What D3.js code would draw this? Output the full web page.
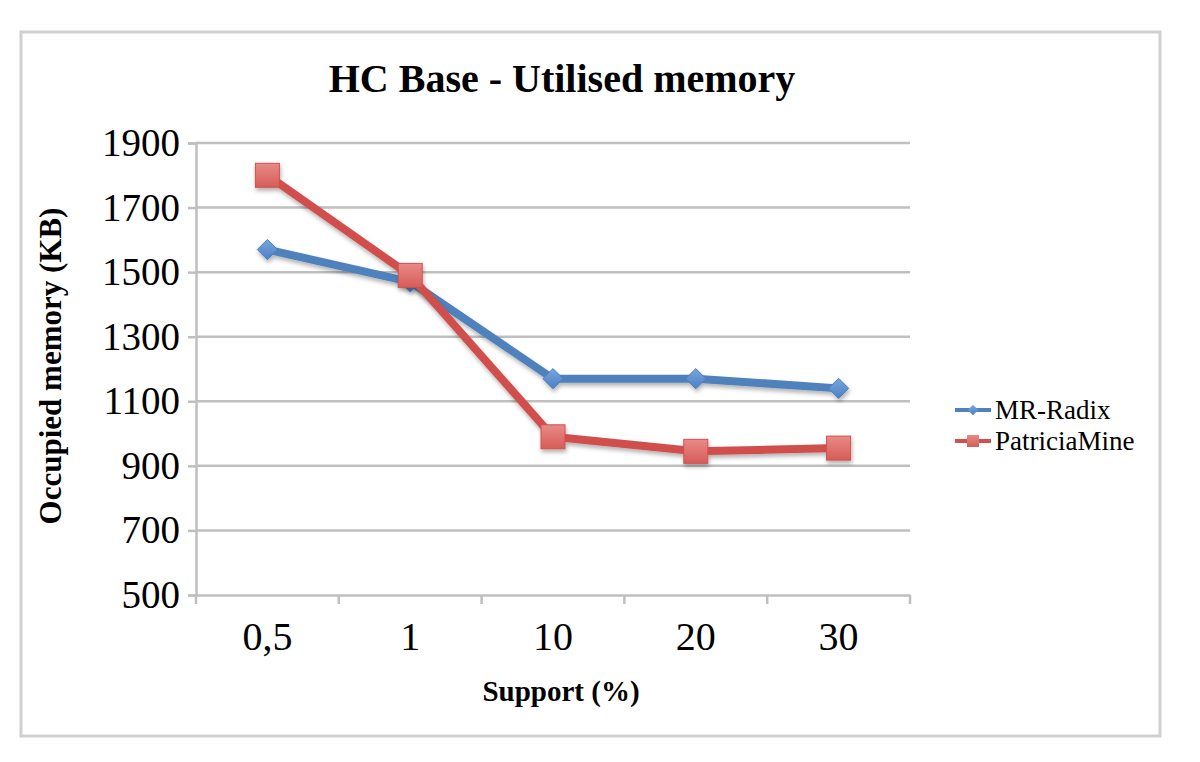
<!DOCTYPE html>
<html><head><meta charset="utf-8">
<script src="https://cdn.jsdelivr.net/npm/d3@7"></script>
<style>body{margin:0;background:#fff}svg{display:block}</style>
</head><body>
<svg id="c" width="1200" height="762"></svg>
<script>
const categories = ["0,5","1","10","20","30"];
const mrRadix = [1570,1470,1170,1170,1140];
const patriciaMine = [1800,1490,990,945,955];
const yTicks = [500,700,900,1100,1300,1500,1700,1900];
const seriesNames = ["MR-Radix","PatriciaMine"];

const svg = d3.select("#c");
const font = "'Liberation Serif','Times New Roman',serif";
const m = {left:196, right:910, top:143, bottom:595};

const defs = svg.append("defs");
const f = defs.append("filter").attr("id","sh").attr("x","-20%").attr("y","-20%").attr("width","140%").attr("height","160%");
f.append("feDropShadow").attr("dx",1).attr("dy",3).attr("stdDeviation",2).attr("flood-color","#000").attr("flood-opacity",0.3);
const gR = defs.append("linearGradient").attr("id","gR").attr("x1",0).attr("y1",0).attr("x2",0).attr("y2",1);
gR.append("stop").attr("offset","0").attr("stop-color","#e88a87");
gR.append("stop").attr("offset","1").attr("stop-color","#d65c58");
const gB = defs.append("linearGradient").attr("id","gB").attr("x1",0).attr("y1",0).attr("x2",0).attr("y2",1);
gB.append("stop").attr("offset","0").attr("stop-color","#7aa6dc");
gB.append("stop").attr("offset","1").attr("stop-color","#4a80c6");

// outer frame
svg.append("rect").attr("x",21).attr("y",32).attr("width",1139).attr("height",704)
  .attr("fill","#fff").attr("stroke","#d0d0d0").attr("stroke-width",3);

const x = d3.scaleBand().domain(categories).range([m.left,m.right]);
const y = d3.scaleLinear().domain([500,1900]).range([m.bottom,m.top]);

// gridlines
svg.append("g").selectAll("line").data(yTicks.filter(d=>d>500)).join("line")
  .attr("x1",m.left).attr("x2",m.right).attr("y1",d=>y(d)).attr("y2",d=>y(d))
  .attr("stroke","#bfbfbf").attr("stroke-width",2.5);

// y axis
const ya = svg.append("g").attr("transform",`translate(${m.left},0)`)
  .call(d3.axisLeft(y).tickValues(yTicks).tickFormat(d3.format("d")).tickSize(8).tickPadding(8));
ya.select(".domain").attr("stroke","#bfbfbf").attr("stroke-width",2.5);
ya.selectAll(".tick line").attr("stroke","#bfbfbf").attr("stroke-width",2.5);
ya.selectAll("text").attr("font-family",font).attr("font-size",39).attr("fill","#000");

// x axis
const xa = svg.append("g").attr("transform",`translate(0,${m.bottom})`)
  .call(d3.axisBottom(x).tickSize(0).tickPadding(27));
xa.select(".domain").attr("stroke","#bfbfbf").attr("stroke-width",2.5);
xa.selectAll("text").attr("font-family",font).attr("font-size",40).attr("fill","#000");
const bounds = categories.map(c=>x(c)).concat([m.right]);
svg.append("g").selectAll("line").data(bounds).join("line")
  .attr("x1",d=>d).attr("x2",d=>d).attr("y1",m.bottom).attr("y2",m.bottom+9)
  .attr("stroke","#bfbfbf").attr("stroke-width",2.5);

const cx = c => x(c)+x.bandwidth()/2;
const line = d3.line().x((d,i)=>cx(categories[i])).y(d=>y(d));

// MR-Radix
const gb = svg.append("g").attr("filter","url(#sh)");
gb.append("path").attr("d",line(mrRadix)).attr("fill","none").attr("stroke","#4f81bd").attr("stroke-width",8).attr("stroke-linejoin","round");
gb.selectAll("path.m").data(mrRadix).join("path").attr("class","m")
  .attr("d",d3.symbol(d3.symbolDiamond2,260))
  .attr("transform",(d,i)=>`translate(${cx(categories[i])},${y(d)})`)
  .attr("fill","url(#gB)").attr("stroke","#4a7ebb").attr("stroke-width",1);

// PatriciaMine
const gr = svg.append("g").attr("filter","url(#sh)");
gr.append("path").attr("d",line(patriciaMine)).attr("fill","none").attr("stroke","#d0504d").attr("stroke-width",8).attr("stroke-linejoin","round");
gr.selectAll("rect").data(patriciaMine).join("rect")
  .attr("x",(d,i)=>cx(categories[i])-12).attr("y",d=>y(d)-12).attr("width",24).attr("height",24)
  .attr("fill","url(#gR)").attr("stroke","#d0504d").attr("stroke-width",1);

// title
svg.append("text").attr("x",562).attr("y",92).attr("text-anchor","middle")
  .attr("font-family",font).attr("font-weight","bold").attr("font-size",40).text("HC Base - Utilised memory");

// axis titles
svg.append("text").attr("x",561).attr("y",701).attr("text-anchor","middle")
  .attr("font-family",font).attr("font-weight","bold").attr("font-size",29).text("Support (%)");
svg.append("text").attr("transform","translate(61,366) rotate(-90)").attr("text-anchor","middle")
  .attr("font-family",font).attr("font-weight","bold").attr("font-size",31).text("Occupied memory (KB)");

// legend
const leg = svg.append("g");
const ly = [410,441];
const lc = ["#4f81bd","#d0504d"];
seriesNames.forEach((n,i)=>{
  leg.append("line").attr("x1",955).attr("x2",991).attr("y1",ly[i]).attr("y2",ly[i]).attr("stroke",lc[i]).attr("stroke-width",4);
  if(i===0){
    leg.append("path").attr("d",d3.symbol(d3.symbolDiamond2,70)).attr("transform",`translate(973,${ly[i]})`).attr("fill","url(#gB)");
  } else {
    leg.append("rect").attr("x",967).attr("y",ly[i]-6).attr("width",12).attr("height",12).attr("fill","url(#gR)");
  }
  leg.append("text").attr("x",995).attr("y",ly[i]+9).attr("font-family",font).attr("font-size",27).text(n);
});
</script>
</body></html>
